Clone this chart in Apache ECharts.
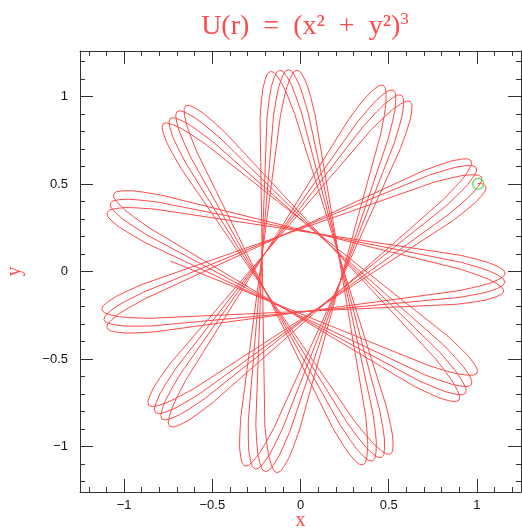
<!DOCTYPE html>
<html>
<head>
<meta charset="utf-8">
<script src="https://cdn.jsdelivr.net/npm/echarts@6/dist/echarts.min.js"></script>
<style>
html, body { margin: 0; padding: 0; background: #fff; }
#main { width: 522px; height: 529px; }
</style>
</head>
<body>
<div id="main"></div>
<script>
// apex of each loop of the orbit, in the order the orbit reaches them (degrees / radius)
var tipAngle = [
    24.7, 221.4, 57.2, 254.1, 91.0, 287.9, 124.7, 320.9, 157.5, 354.5, 190.9,
    27.5, 224.2, 60.2, 257.1, 93.5, 290.8, 127.6, 323.6, 160.3, 357.0, 193.8,
    30.6, 226.8, 62.9, 260.0, 95.9, 293.5, 130.4, 326.5, 163.1, 359.5, 196.2,
    33.0, 229.8, 66.1, 263.3, 98.5, 296.2, 132.9, 330.1
];
var tipRadius = [
    1.16, 1.15, 1.15, 1.15, 1.145, 1.155, 1.145, 1.16, 1.15, 1.16, 1.15,
    1.16, 1.15, 1.155, 1.152, 1.15, 1.152, 1.148, 1.165, 1.148, 1.163, 1.15,
    1.16, 1.15, 1.157, 1.155, 1.15, 1.153, 1.142, 1.165, 1.15, 1.163, 1.146,
    1.156, 1.152, 1.158, 1.151, 1.15, 1.157, 1.146, 1.158
];
// how the orbit turns round an apex: drop in radius and shift in angle
var bendDr  = [-0.25, -0.15, -0.09, -0.04, -0.01, 0, -0.01, -0.04, -0.09, -0.15, -0.25];
var bendDeg = [6.3, 4.3, 3.15, 1.9, 0.95, 0, -0.95, -1.9, -3.15, -4.3, -6.3];
var startPoint = [1.125, 26.4];   // [r, angle]
var endPoint = [0.742, 175.4];
var marker = [[1.007, 0.501]];    // [x, y]

var majorTicks = [-1, -0.5, 0, 0.5, 1];
var minorTicks = [-1.2, -1.1, -0.9, -0.8, -0.7, -0.6, -0.4, -0.3, -0.2, -0.1,
                  0.1, 0.2, 0.3, 0.4, 0.6, 0.7, 0.8, 0.9, 1.1, 1.2];

var orbit = [startPoint];
for (var i = 0; i < tipAngle.length; i++) {
    for (var j = 0; j < bendDr.length; j++) {
        if (i === 0 && j < 4) continue; // orbit starts just before the first apex
        orbit.push([tipRadius[i] + bendDr[j], tipAngle[i] + bendDeg[j]]);
    }
}
orbit.push(endPoint);

var red = '#ff4a4a';
var frame = '#333';

function minusSign(v) {
    return String(v).replace('-', '\u2212');
}

function axis(gridIndex, pos, range, ticks, len, opts) {
    var a = {
        type: 'value',
        gridIndex: gridIndex,
        position: pos,
        min: -range,
        max: range,
        splitLine: { show: false },
        axisLine: { show: gridIndex === 0, onZero: false, lineStyle: { color: frame, width: 1 } },
        axisTick: { show: true, inside: true, length: len, customValues: ticks,
                    lineStyle: { color: frame, width: 1 } },
        axisLabel: { show: false }
    };
    for (var k in opts) a[k] = opts[k];
    return a;
}

var chart = echarts.init(document.getElementById('main'));

var option = {
    animation: false,
    backgroundColor: '#fff',
    title: {
        text: '{m|U(r)  =  (x\u00b2  +  y\u00b2)}{s|3}',
        left: 300,
        top: 6,
        textAlign: 'center',
        textStyle: {
            fontWeight: 'normal',
            rich: {
                m: { fontFamily: 'Liberation Serif', fontSize: 28, fontWeight: 'normal', color: red, lineHeight: 32 },
                s: { fontFamily: 'Liberation Serif', fontSize: 17, fontWeight: 'normal', color: red, verticalAlign: 'top', lineHeight: 32 }
            }
        }
    },
    grid: [
        { left: 80, top: 51, width: 441, height: 441, outerBoundsMode: 'none' },
        { left: 80, top: 51, width: 441, height: 441, outerBoundsMode: 'none' }
    ],
    xAxis: [
        axis(0, 'bottom', 1.25, majorTicks, 13, {
            name: 'x', nameLocation: 'middle', nameGap: 19, nameMoveOverlap: false,
            nameTextStyle: { fontFamily: 'Liberation Serif', fontSize: 20, color: red },
            axisLabel: { show: true, customValues: majorTicks, margin: 7, formatter: minusSign,
                         fontFamily: 'Liberation Sans', fontSize: 13, color: '#111' }
        }),
        axis(0, 'top', 1.25, majorTicks, 13, {}),
        axis(1, 'bottom', 1.25, minorTicks, 5, {}),
        axis(1, 'top', 1.25, minorTicks, 5, {})
    ],
    yAxis: [
        axis(0, 'left', 1.26, majorTicks, 13, {
            name: 'y', nameLocation: 'middle', nameGap: 55, nameRotate: 90, nameMoveOverlap: false,
            nameTextStyle: { fontFamily: 'Liberation Serif', fontSize: 20, color: red },
            axisLabel: { show: true, customValues: majorTicks, margin: 12, formatter: minusSign,
                         fontFamily: 'Liberation Sans', fontSize: 13, color: '#111' }
        }),
        axis(0, 'right', 1.26, majorTicks, 13, {}),
        axis(1, 'left', 1.26, minorTicks, 5, {}),
        axis(1, 'right', 1.26, minorTicks, 5, {})
    ],
    polar: { center: [300.5, 271.5], radius: 220 },
    angleAxis: { type: 'value', min: 0, max: 360, startAngle: 0, clockwise: false, show: false },
    radiusAxis: { type: 'value', min: 0, max: 1.25, show: false },
    series: [
        {
            type: 'line',
            coordinateSystem: 'polar',
            data: orbit,
            showSymbol: false,
            clip: false,
            lineStyle: { color: red, width: 1 },
            z: 2
        },
        {
            type: 'scatter',
            xAxisIndex: 0,
            yAxisIndex: 0,
            data: marker,
            symbol: 'circle',
            symbolSize: 11,
            itemStyle: { color: 'rgba(0,0,0,0)', borderColor: '#44e044', borderWidth: 1.5 },
            z: 3
        }
    ]
};

chart.setOption(option);
</script>
</body>
</html>
